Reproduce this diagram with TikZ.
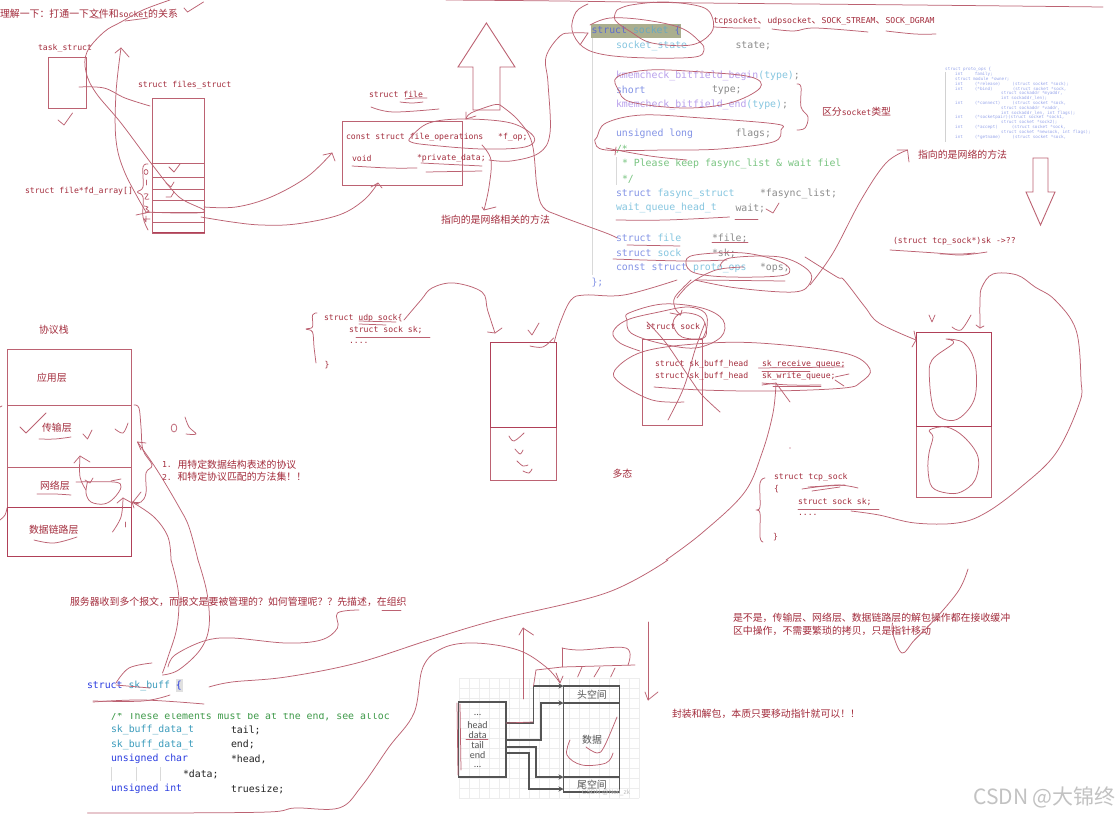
\documentclass[tikz,border=0pt]{standalone}
\usepackage{fontspec}
\usetikzlibrary{arrows.meta}
\setmainfont{Liberation Sans}
\newfontfamily\mnf{DejaVu Sans Mono}
\newfontfamily\cjf{Noto Sans CJK SC}
\newfontfamily\cbf{Carlito}
\newcommand{\cj}{\cjf\fontsize{9.9}{11}\selectfont}
\newcommand{\an}{\mnf\fontsize{8.15}{9}\selectfont}
\newcommand{\cd}{\mnf\fontsize{9.85}{11}\selectfont}
\newcommand{\mm}[1]{{\an #1}}
\newcommand{\fzc}{\symbol{"FF0C}}
\newcommand{\fzk}{\symbol{"FF1A}}
\newcommand{\fzq}{\symbol{"FF1F}}
\newcommand{\fze}{\symbol{"FF01}}
\definecolor{inkc}{HTML}{BC6272}
\definecolor{inkd}{HTML}{B04058}
\definecolor{annot}{HTML}{A32C3C}
\definecolor{kw}{HTML}{8494E6}
\definecolor{kwh}{HTML}{5C6CD0}
\definecolor{ty}{HTML}{86C6E0}
\definecolor{tyh}{HTML}{6AA8C0}
\definecolor{pu}{HTML}{B9A0EC}
\definecolor{gy}{HTML}{8C8C8C}
\definecolor{gr}{HTML}{78C480}
\definecolor{kwd}{HTML}{2A3CE0}
\definecolor{tyd}{HTML}{3C9CBC}
\definecolor{grd}{HTML}{3F9A4A}
\definecolor{bk}{HTML}{222222}
\definecolor{pk}{HTML}{555555}
\definecolor{hlc}{HTML}{AAAE8E}
\newcommand{\ink}[1]{\draw[inkl] plot[smooth,tension=.6] coordinates {#1};}
\newcommand{\inkc}[1]{\draw[inkl] plot[smooth cycle,tension=.6] coordinates {#1};}
\newcommand{\pl}[1]{\draw[inkl] plot[sharp plot] coordinates {#1};}
\tikzset{
  inkl/.style={draw=inkc,line width=.75pt,line cap=round,line join=round},
  boxl/.style={draw=inkc,line width=.9pt},
  boxd/.style={draw=inkd,line width=.95pt},
  lbl/.style={anchor=west,inner sep=0pt,outer sep=0pt,text=annot,font=\an},
  cjl/.style={anchor=west,inner sep=0pt,outer sep=0pt,text=annot,font=\cj},
  cod/.style={anchor=west,inner sep=0pt,outer sep=0pt,font=\cd},
  sk/.style={draw=pk,line width=1.3pt},
  skc/.style={draw=pk,line width=1.3pt,-{Stealth[length=5pt,width=5pt]}},
  skt/.style={inner sep=0pt,text=pk,font=\cbf\fontsize{10}{10}\selectfont}
}
\begin{document}
\begin{tikzpicture}[x=1pt,y=-1pt]
\useasboundingbox[fill=white] (0,0) rectangle (1116,816);

% ---- code block: struct socket
\fill[hlc] (591,24) rectangle (680.5,38);
\draw[black!15,line width=.8pt] (592,38) -- (592,275);
\draw[black!15,line width=.6pt] (616,157) -- (616,185);
\node[cod] (c1) at (591.5,31) {\textcolor{kwh}{struct} \textcolor{tyh}{socket} \textcolor{kwh}{\{}};
\node[cod] (c2) at (616,46) {\textcolor{ty}{socket\_state}};
\node[cod,text=gy] (c2b) at (735.5,46) {state;};
\node[cod] (c3) at (616,76) {\textcolor{pu}{kmemcheck\_bitfield\_begin}\textcolor{ty}{(type)}\textcolor{gy}{;}};
\node[cod,text=kw] (c4) at (616,90) {short};
\node[cod,text=gy] (c4b) at (712,90) {type;};
\node[cod] (c5) at (616,105) {\textcolor{pu}{kmemcheck\_bitfield\_end}\textcolor{ty}{(type)}\textcolor{gy}{;}};
\node[cod,text=kw] (c6) at (616,134) {unsigned long};
\node[cod,text=gy] (c6b) at (735.5,134) {flags;};
\node[cod,text=gr] (c7) at (616,149) {/*};
\node[cod,text=gr] (c8) at (622,164) {* Please keep fasync\_list \& wait fiel};
\node[cod,text=gr] (c9) at (622,179) {*/};
\node[cod] (c10) at (616,194) {\textcolor{kw}{struct} \textcolor{ty}{fasync\_struct}};
\node[cod,text=gy] (c10b) at (760,194) {*fasync\_list;};
\node[cod,text=ty] (c11) at (616,208) {wait\_queue\_head\_t};
\node[cod,text=gy] (c11b) at (735.5,208) {wait;};
\node[cod] (c12) at (616,238) {\textcolor{kw}{struct} \textcolor{ty}{file}};
\node[cod,text=gy] (c12b) at (712,238) {*file;};
\node[cod] (c13) at (616,253) {\textcolor{kw}{struct} \textcolor{ty}{sock}};
\node[cod,text=gy] (c13b) at (712,253) {*sk;};
\node[cod] (c14) at (616,268) {\textcolor{kw}{const struct} \textcolor{ty}{proto\_ops}};
\node[cod,text=gy] (c14b) at (760,268) {*ops;};
\node[cod,text=kw] (c15) at (591.5,283) {\};};

% ---- thumbnail
\draw[black!18,line width=.6pt] (945,72) -- (945,142);
\node[anchor=north west,inner sep=0pt,align=left,text=kw!85!white,font=\mnf\fontsize{4.25}{4.8}\selectfont] (thumb) at (945,67.5) {%
struct proto\_ops \{\\
\hspace*{10pt}int\hspace*{12pt}family;\\
\hspace*{10pt}struct module\hspace*{3pt}*owner;\\
\hspace*{10pt}int\hspace*{12pt}(*release)\hspace*{12pt}(struct socket *sock);\\
\hspace*{10pt}int\hspace*{12pt}(*bind)\hspace*{20pt}(struct socket *sock,\\
\hspace*{56pt}struct sockaddr *myaddr,\\
\hspace*{56pt}int sockaddr\_len);\\
\hspace*{10pt}int\hspace*{12pt}(*connect)\hspace*{12pt}(struct socket *sock,\\
\hspace*{56pt}struct sockaddr *vaddr,\\
\hspace*{56pt}int sockaddr\_len, int flags);\\
\hspace*{10pt}int\hspace*{12pt}(*socketpair)(struct socket *sock1,\\
\hspace*{56pt}struct socket *sock2);\\
\hspace*{10pt}int\hspace*{12pt}(*accept)\hspace*{14pt}(struct socket *sock,\\
\hspace*{56pt}struct socket *newsock, int flags);\\
\hspace*{10pt}int\hspace*{12pt}(*getname)\hspace*{12pt}(struct socket *sock,};

% ---- sk_buff code
\fill[black!12] (176,679) rectangle (182.5,692);
\node[cod] (s1) at (87,686) {\textcolor{kwd}{struct} \textcolor{tyd}{sk\_buff} \textcolor{kwd}{\{}};
\begin{scope}
\clip (100,713.5) rectangle (400,725);
\node[cod,text=grd] (s2) at (111,716) {/* These elements must be at the end, see alloc};
\end{scope}
\node[cod,text=tyd] (s3) at (111,730) {sk\_buff\_data\_t};
\node[cod,text=bk] (s3b) at (231,730) {tail;};
\node[cod,text=tyd] (s4) at (111,744.5) {sk\_buff\_data\_t};
\node[cod,text=bk] (s4b) at (231,744.5) {end;};
\node[cod,text=kwd] (s5) at (111,759) {unsigned char};
\node[cod,text=bk] (s5b) at (231,759) {*head,};
\draw[black!15,line width=.6pt] (111,767) -- (111,781) (136,767) -- (136,781) (160,767) -- (160,781);
\node[cod,text=bk] (s6) at (183,774) {*data;};
\node[cod,text=kwd] (s7) at (111,789) {unsigned int};
\node[cod,text=bk] (s7b) at (231,789) {truesize;};

% ---- packet figure
\foreach \i in {0,...,18} \draw[black!7,line width=.4pt] (459+\i*10,678) -- (459+\i*10,798);
\foreach \i in {0,...,12} \draw[black!7,line width=.4pt] (459,678+\i*10) -- (639,678+\i*10);
\draw[sk] (458.6,702) rectangle (506,777);
\draw[sk] (563.5,686) rectangle (619.5,792);
\draw[sk] (563.5,703) -- (619.5,703) (563.5,777) -- (619.5,777);
\node[skt] (p0) at (477.6,715) {...};
\node[skt] (p1) at (477.6,725) {head};
\node[skt] (p2) at (477.6,735) {data};
\node[skt] (p3) at (477.6,745) {tail};
\node[skt] (p4) at (477.6,755) {end};
\node[skt] (p5) at (477.6,766.5) {...};
\node[inner sep=0pt,text=pk,font=\cj] (q1) at (592,695) {头空间};
\node[inner sep=0pt,text=pk,font=\cj] (q2) at (592,740) {数据};
\node[inner sep=0pt,text=pk,font=\cj] (q3) at (592,784.5) {尾空间};
\node[inner sep=0pt,text=black!25,font=\fontsize{6.5}{7}\selectfont] (q4) at (606,793) {CSDN @Neil\_zk};
\coordinate (ha) at (506,723); \coordinate (hb) at (563.5,686);
\coordinate (da) at (506,740); \coordinate (db) at (563.5,703);
\coordinate (ta) at (506,747); \coordinate (tb) at (563.5,777);
\coordinate (ea) at (506,753); \coordinate (eb) at (563.5,789);
\draw[skc] (ha) -- (533.5,723) -- (533.5,686) -- (hb);
\draw[skc] (da) -- (541,740) -- (541,703) -- (db);
\draw[skc] (ta) -- (536,747) -- (536,777) -- (tb);
\draw[skc] (ea) -- (529,753) -- (529,789) -- (eb);

% ---- boxes
\draw[boxl] (48,57) rectangle (86.5,108);
\draw[boxl] (152.5,98) rectangle (204.5,233);
\foreach \y in {163,177,189,200,212,222} \draw[boxl] (152.5,\y) -- (204.5,\y);
\draw[boxd] (152.5,232.5) -- (204.5,232.5);
\draw[boxl] (342.5,121.5) rectangle (462,185);
\draw[boxl] (7,349.5) rectangle (131.5,556);
\draw[boxl] (7,405) -- (131.5,405) (7,467) -- (131.5,467);
\draw[boxd] (7,507) rectangle (131.5,556);
\draw[boxl] (490.5,342) rectangle (556,480);
\draw[boxd] (490.5,342) rectangle (556,427);
\draw[boxl] (642,339) rectangle (702,425);
\draw[boxl] (916,332) rectangle (991,497);
\draw[boxd] (916,332) rectangle (991,426);

% ---- annotation labels
\node[cjl] (t1) at (0,13.5) {理解一下\fzk 打通一下文件和\mm{socket}的关系};
\node[lbl] (t2) at (38,48) {task\_struct};
\node[lbl] (t3) at (138,85) {struct files\_struct};
\node[lbl] (t4) at (25,191) {struct file*fd\_array[]};
\node[lbl] (t5) at (369,94) {struct file};
\node[lbl] (t6) at (346,137) {const struct file\_operations\ \ \ *f\_op;};
\node[lbl] (t7) at (352,158) {void};
\node[lbl] (t8) at (417,158) {*private\_data;};
\node[cjl] (t9) at (441,220) {指向的是网络相关的方法};
\node[lbl] (t10) at (713.5,21) {tcpsocket{\cj 、}udpsocket{\cj 、}SOCK\_STREAM{\cj 、}SOCK\_DGRAM};
\node[cjl] (t11) at (822,112) {区分\mm{socket}类型};
\node[cjl] (t12) at (918,155) {指向的是网络的方法};
\node[lbl] (t13) at (893,241) {(struct tcp\_sock*)sk ->??};
\node[cjl] (t14) at (39,330) {协议栈};
\node[cjl] (t15) at (37,378) {应用层};
\node[cjl] (t16) at (42,428) {传输层};
\node[cjl] (t17) at (40,486) {网络层};
\node[cjl] (t18) at (29,530) {数据链路层};
\node[lbl] (t19) at (162,465) {1.};
\node[cjl] (t20) at (177.5,465) {用特定数据结构表述的协议};
\node[lbl] (t21) at (162,477) {2.};
\node[cjl] (t22) at (177.5,477) {和特定协议匹配的方法集\fze\fze};
\node[lbl] (t23) at (324,318) {struct udp\_sock\{};
\node[lbl] (t24) at (349,330) {struct sock sk;};
\node[lbl] (t25) at (349,343) {....};
\node[lbl] (t26) at (324.5,365) {\}};
\node[lbl] (t27) at (646,326) {struct sock};
\node[lbl] (t28) at (655,364) {struct sk\_buff\_head};
\node[lbl] (t29) at (762,364) {sk\_receive\_queue;};
\node[lbl] (t30) at (655,376) {struct sk\_buff\_head};
\node[lbl] (t31) at (762,376) {sk\_write\_queue;};
\node[cjl] (t32) at (612.5,474) {多态};
\node[lbl] (t33) at (774,477) {struct tcp\_sock};
\node[lbl] (t34) at (774,489) {\{};
\node[lbl] (t35) at (798,502) {struct sock sk;};
\node[lbl] (t36) at (798,515) {....};
\node[lbl] (t37) at (773,537) {\}};
\node[cjl] (t38) at (70,602) {服务器收到多个报文\fzc 而报文是要被管理的\fzq 如何管理呢\fzq\fzq 先描述\fzc 在组织};
\node[cjl] (t39) at (733,618) {是不是\fzc 传输层、网络层、数据链路层的解包操作都在接收缓冲};
\node[cjl] (t40) at (733,631) {区中操作\fzc 不需要繁琐的拷贝\fzc 只是指针移动};
\node[cjl] (t41) at (672,714) {封装和解包\fzc 本质只要移动指针就可以\fze\fze};
\node[anchor=east,inner sep=0pt,text=black!24,font=\cjf\fontsize{21}{23}\selectfont] (wm) at (1116,797) {CSDN @大锦终};

% ---- big hollow arrows
\draw[boxl] (486.4,23) -- (515,67) -- (500,67) -- (500,110) -- (473,110) -- (473,67) -- (458,67) -- cycle;
\draw[boxl] (1033,158) -- (1048,158) -- (1048,192) -- (1055,192) -- (1040.5,225) -- (1026,192) -- (1033,192) -- cycle;

% ---- ink: top-left
\ink{(170,0) (143,10) (121,22) (104,32) (87,52) (86,72) (96,93) (121,123) (154,167) (179,197) (204,212) (146,212)}
\ink{(146,212) (125,173) (116,140) (116,93) (121,48)}
\pl{(115,53) (121,48) (129,57)}
\ink{(79,87) (104,88) (125,98) (150,106)}
\pl{(58,120) (64,125) (72.5,113)}
\pl{(184,8) (187.5,12) (203.5,2)}
\ink{(204,207) (236,207) (271,197) (307,177) (332,153)}
\pl{(323,155) (332,153) (335,161)}
\ink{(201,217) (232,222) (261,225) (296,224) (339,215) (364,200) (378,183)}
\pl{(371,187) (378,183) (382,188)}
\pl{(169,167) (174,172) (180,164)}
\pl{(166,183) (171,187) (174,182)}
\pl{(166,197) (171,197) (174,192)}
\ink{(148,164) (143,167) (143,187) (137.5,192) (143,197) (143,217) (148,230)}
\draw[inkl] (146,172) ellipse (2pt and 2.5pt);
\draw[inkl] (146,180) -- (146,185);
\ink{(144,194) (148,194) (145,199) (149,199)}
\ink{(144,206) (148,207) (146,209) (149,211) (145,213)}
\pl{(146,216) (146,222) (144,219) (150,219)}
\pl{(136,215) (150,212)}
\ink{(91,17) (96,18) (102,18)}
\ink{(125,21) (148,18)}
\ink{(371,107) (393,112) (439,109)}
\ink{(400,102) (412,103) (423,102)}
\ink{(405,99) (415,98) (427,98)}
\inkc{(411,137) (429,123) (464,119) (511,123) (534,137) (525,147) (482,149) (429,145) (411,142)}
\ink{(352,166) (389,168) (417,168)}
\ink{(421,163) (482,166)}
\ink{(426,172) (482,171)}
\ink{(500,105) (493,105) (471,113) (466,119)}
\pl{(466,112) (466,119) (476,116)}
\ink{(500,105) (518,120) (532,143) (537,187) (543,207) (560,216) (606,233) (617,238)}
\ink{(489,160) (511,161) (539,153) (550,133) (548,83) (546,57) (560,36) (572,33) (588,33)}
\ink{(482,145) (491,160) (489,187) (484,210)}
\pl{(482,207) (484,210) (496,207)}

% ---- ink: top right
\ink{(446,0) (560,1) (702,3) (915,5) (1103,7)}
\ink{(588,4) (576,12) (572,30) (583,47) (606,55) (649,58) (695,57) (704,50) (700,42) (681,28) (645,20) (610,18) (590,25)}
\ink{(617,10) (615,20) (631,32) (652,43) (691,45) (711,33) (712.5,18) (702,7) (666,2) (631,5) (617,10)}
\pl{(580,45) (588,33)}
\ink{(714,27) (737,28) (760,28)}
\ink{(772,29) (794,31) (815,28) (868,32)}
\ink{(886,31) (915,34) (936,34)}
\inkc{(617,77) (618.5,90) (631,102) (684,108) (730,103) (760,88) (751,77) (702,72) (649,70)}
\ink{(797,84) (801,87) (801,107) (808,117) (805,128) (797,130)}
\inkc{(597,137) (606,123) (642,115) (702,118) (776,124) (781,130) (773,142) (720,149) (666,150) (606,150) (595,142)}
\ink{(606,148) (650,156) (687,160)}
\pl{(616,147) (615,155)}
\pl{(766,209) (773,213) (779,203)}
\ink{(616,220) (666,220) (729.5,217)}
\pl{(735,219) (758,219)}
\pl{(627,245) (680,246)}
\pl{(712,242) (748,242)}
\ink{(613,259) (684,261) (727,260)}
\inkc{(686,263) (695,255) (744,253) (783,263) (785,275) (730,277) (695,273)}
\ink{(720,267) (730,258) (780,257) (808,270) (810,283) (794,292) (737,288) (695,280)}
\pl{(696,280) (785,281)}
\ink{(677,298) (691,283) (716,270) (744,267)}
\ink{(810,285) (833,253) (861,200) (886,163) (907.5,150)}
\pl{(897,150) (907.5,150) (909,162)}
\ink{(805,257) (837,277) (844,280) (865,307) (879,323) (916,340)}
\pl{(914,331) (916,340) (912,347)}
\ink{(554,343) (560,323) (571,300) (585,295) (624,295) (677,280)}
\ink{(890,250) (936,253) (961,255) (987,252)}
\ink{(940,254) (961,254) (975,253)}
\ink{(980,328) (980,300) (982,287) (993,274) (1017,275) (1035,287) (1055,300) (1076,330) (1081,380) (1079.5,403) (1056,453) (1021,487) (985.5,513) (957,523) (915,523) (879,515) (851,511)}
\pl{(976,325) (980,328) (984,326)}

% ---- ink: stack
\pl{(20,427) (26,433) (46,413)}
\ink{(39,439) (55,439) (71,437)}
\pl{(83,434) (87.5,439) (92,430)}
\ink{(115,429) (123,433) (128,423)}
\draw[inkl] (174,428) ellipse (2.8pt and 4pt);
\ink{(185,417) (189,427) (196,434) (186,434)}
\ink{(134,405) (139,408) (141,427) (143,450) (152,465) (146,473) (146,493) (141,502) (133,502)}
\pl{(141,492) (133,502) (139,504)}
\ink{(37,494) (55,494) (71,495)}
\ink{(86,490) (80,477) (80,456)}
\pl{(74,463) (80,456) (90,462)}
\ink{(76,482) (114,482) (121,487) (114,498) (104,504) (91,502) (86,493) (87.5,482)}
\pl{(111,481) (121,479)}
\pl{(85,480) (90,483) (93,478)}
\ink{(34,540) (54,543) (77,537)}
\ink{(112.5,532) (121,517) (123,498)}
\pl{(117,503) (123,498) (132,503)}
\pl{(125,522) (125,527)}
\ink{(171,560) (168,537) (154,517) (132,502)}
\pl{(134,508) (132,502) (138,504)}
\ink{(198,560) (189,527) (179,507) (157,470) (137.5,442)}
\pl{(146,443) (137.5,442) (141,450)}
\ink{(7,508) (5,515) (0,520)}
\pl{(0,407) (2,406)}

% ---- ink: udp
\ink{(317,313) (312.5,315) (312.5,327) (306,329) (312.5,332) (314,347) (316,363)}
\pl{(359,321) (396,322)}
\pl{(359,324) (386,325)}
\pl{(356,337) (430,337)}
\ink{(404,320) (421,300) (432,288) (454,283) (482,292) (487.5,310) (495,333)}
\pl{(487.5,332) (495,333) (502,328)}
\pl{(528,330) (532,335) (539,323)}
\ink{(530,346) (543,347) (553.5,338)}
\ink{(509,436) (514,441) (524,433)}
\ink{(515,449) (520,454) (523,450)}
\ink{(517,461) (523,466) (528,465)}
\ink{(523,471) (529,473) (532,469)}

% ---- ink: sock
\inkc{(629,313) (663,304) (702,308) (723,320) (721,337) (695,348) (659,343) (631,333) (627,320)}
\ink{(640,351) (620,343) (613,332) (627,320) (659,312) (688,307) (705,313) (707,327) (702,340)}
\inkc{(673,323) (682,313) (702,318) (705,337) (682,337)}
\ink{(684,402) (652,400) (620,383) (615,370) (642,352) (695,344) (759,343) (844,353) (870,369) (861,382) (844,388) (773,391) (702,390) (654,387)}
\ink{(647,322) (666,343) (691,380) (702,395) (720,412)}
\ink{(705,323) (695,350) (684,387) (668,420)}
\pl{(758.6,368) (844,367)}
\pl{(762,371) (810,371)}
\ink{(762,383) (790,385) (821,385)}
\pl{(773,386) (821,386)}
\pl{(835,380) (844,386)}
\pl{(835,377) (849,374)}
\ink{(691,280) (675,297) (675,308) (680.6,315)}
\pl{(670,313) (680.6,315) (682,310)}
\ink{(666,560) (702,533) (744,493) (762,453) (773,413) (776,383)}
\pl{(762,385) (776,383) (790,402)}
\fill[inkd] (790,448) circle (.7pt);

% ---- ink: tcp
\inkc{(946,339) (964,343) (975,363) (975,397) (961,417) (946.5,420) (934,410) (929.5,380) (932,360) (953.6,343)}
\inkc{(929.5,430) (946.5,427) (964,437) (978,457) (975,480) (961,492) (946.5,493) (932,487) (928,470) (929,453) (933,437)}
\pl{(929,315) (932,322) (935,315)}
\ink{(952,327) (961,330) (971,315)}
\ink{(765,478) (760,483) (760,507) (756,510) (760,513) (760,537) (763,542)}
\ink{(802,489) (836.6,485) (858,488)}
\pl{(808,487) (845,485)}
\pl{(812,491) (840,487)}
\pl{(798,509) (879,509)}

% ---- ink: bottom
\pl{(382,610) (401,610)}
\ink{(171,560) (178.5,593) (177,627) (168,657) (162.5,673)}
\ink{(198,560) (207,593) (209,627) (200,650) (178.5,670) (162.5,675)}
\ink{(359,610) (337.5,613) (337.5,628) (321,640) (286,643) (232,638) (204,641) (175,655) (168,667)}
\ink{(116,683) (129,668) (152,663)}
\pl{(116,685) (150,688)}
\ink{(93,701) (143,701) (170,695)}
\ink{(93,702) (143,700) (204,704)}
\ink{(209,687) (232,682) (286,677) (357,663) (429,640) (496,620) (606,593) (668,560)}
\ink{(87.5,813) (161,813) (268,812) (295,808) (339,808) (361,787) (389,747) (414,713) (423,667) (443,648) (475,643) (518,650) (546,667) (560,683)}
\pl{(556,673) (560,683) (563,676)}
\pl{(523,699) (523,628)}
\pl{(519,635) (523,628) (533.5,635)}
\pl{(648,622) (648,700)}
\pl{(645,692) (648,700) (658,692)}
\ink{(562,648) (580,650) (626,648) (628,665)}
\pl{(562,648) (562,667)}
\pl{(536,670) (562,667) (635,665)}
\pl{(536,670) (533.5,686)}
\pl{(582,667) (577.6,677)}
\pl{(600,667) (594,677)}
\pl{(615,668) (610.6,677)}
\ink{(570,740) (567,755) (582,765) (606,763) (613,753)}
\ink{(617,717) (604,747) (597,753) (586,747)}
\pl{(457,703) (458,775)}
\pl{(460,704) (461,770)}
\pl{(466,739) (488,739)}
\pl{(506,723) (533,722)}
\ink{(968,569) (959,590) (937,617) (914.5,640) (902,653) (892.6,633) (892.6,623)}
\end{tikzpicture}
\end{document}
